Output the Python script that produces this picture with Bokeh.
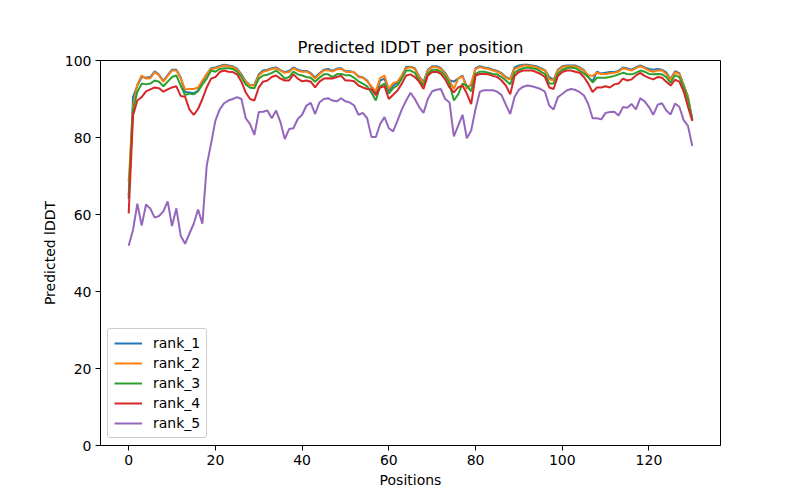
from bokeh.plotting import figure
from bokeh.models import Range1d, FixedTicker, Legend, LegendItem
from bokeh.embed import file_html
from bokeh.resources import INLINE

positions = list(range(131))

rank_1 = [64.0, 90.5, 93.5, 95.7, 95.5, 95.7, 97.2, 96.3, 94.7, 96.2,
          97.6, 97.6, 95.6, 91.8, 91.7, 91.5, 92.2, 94.4, 96.4, 98.0,
          98.2, 98.6, 98.9, 98.7, 98.5, 97.9, 96.4, 94.6, 93.6, 93.7,
          96.4, 97.4, 97.6, 98.0, 98.2, 97.5, 97.0, 97.3, 98.2, 97.6,
          97.3, 97.3, 96.7, 95.6, 96.7, 97.6, 97.8, 97.3, 97.9, 98.0,
          97.2, 97.2, 96.9, 95.9, 95.6, 94.8, 93.0, 91.3, 94.8, 95.3,
          92.2, 93.5, 94.2, 96.0, 98.3, 98.4, 98.0, 95.9, 94.4, 97.6,
          98.5, 98.5, 98.0, 96.8, 94.9, 94.5, 95.3, 96.1, 93.0, 93.6,
          98.0, 98.5, 98.2, 98.0, 97.6, 97.3, 96.7, 95.7, 95.2, 98.2,
          98.7, 98.9, 98.9, 98.7, 98.5, 98.0, 97.5, 95.7, 95.0, 97.6,
          98.5, 98.7, 98.7, 98.7, 98.2, 97.5, 95.7, 94.6, 97.1, 96.6,
          96.8, 97.0, 97.0, 97.3, 98.2, 97.9, 97.6, 98.2, 98.7, 98.2,
          97.8, 97.6, 97.8, 97.6, 96.9, 95.2, 97.2, 96.7, 93.7, 90.6,
          84.6]

rank_2 = [68.4, 88.0, 93.8, 96.1, 95.3, 95.4, 97.0, 96.1, 94.5, 96.0,
          97.4, 97.4, 95.4, 92.5, 92.6, 92.6, 93.0, 94.8, 96.5, 97.8,
          98.0, 98.4, 98.7, 98.5, 98.3, 97.7, 96.1, 94.5, 93.5, 93.5,
          96.1, 97.1, 97.4, 97.8, 98.0, 97.4, 96.8, 97.0, 98.0, 97.4,
          97.1, 97.1, 96.5, 95.3, 96.5, 97.4, 97.5, 97.1, 97.7, 97.8,
          97.1, 97.0, 97.0, 95.7, 95.5, 94.6, 93.3, 92.0, 95.5, 96.1,
          92.6, 94.1, 94.5, 96.1, 98.0, 98.3, 97.8, 95.7, 94.0, 97.4,
          98.3, 98.3, 97.8, 96.5, 94.8, 92.6, 95.3, 95.9, 92.6, 94.0,
          97.8, 98.3, 98.0, 97.8, 97.4, 97.1, 96.5, 95.5, 95.1, 97.8,
          98.3, 98.7, 98.7, 98.5, 98.3, 97.8, 97.4, 95.1, 94.8, 97.4,
          98.3, 98.5, 98.5, 98.5, 98.0, 97.4, 96.2, 96.0, 96.8, 96.5,
          96.5, 96.7, 96.8, 97.1, 98.0, 97.7, 97.4, 98.0, 98.5, 98.0,
          97.4, 97.1, 97.4, 97.4, 96.5, 95.0, 97.0, 96.5, 93.5, 90.5,
          84.5]

rank_3 = [65.0, 87.0, 91.9, 94.0, 93.8, 94.0, 94.8, 94.5, 93.3, 94.5,
          95.7, 96.1, 93.5, 91.0, 91.4, 91.2, 92.0, 93.8, 95.3, 97.4,
          97.1, 97.8, 98.0, 98.0, 97.8, 97.1, 95.7, 93.8, 92.9, 92.8,
          95.3, 96.1, 96.3, 96.8, 97.4, 96.5, 95.3, 95.7, 97.1, 96.4,
          96.1, 95.7, 95.5, 94.5, 95.5, 96.4, 96.4, 95.7, 96.4, 96.5,
          96.2, 96.2, 95.5, 94.6, 94.0, 93.3, 91.6, 89.6, 93.3, 94.0,
          91.4, 92.8, 93.5, 95.3, 97.4, 97.4, 96.8, 94.8, 93.5, 96.6,
          97.6, 97.6, 97.1, 96.0, 94.0, 89.6, 91.2, 94.0, 93.5, 92.0,
          96.5, 97.1, 97.1, 96.8, 96.5, 96.4, 95.7, 94.8, 93.8, 96.8,
          97.6, 98.0, 98.2, 98.0, 97.8, 97.1, 96.5, 94.0, 94.0, 96.6,
          97.6, 98.0, 98.2, 98.0, 97.4, 96.6, 95.7, 94.3, 95.5, 95.5,
          95.5, 95.7, 96.0, 96.4, 96.8, 96.5, 96.4, 96.8, 97.4, 97.1,
          96.5, 96.4, 96.5, 96.4, 95.7, 94.2, 96.2, 95.7, 93.0, 89.8,
          84.5]

rank_4 = [60.3, 85.7, 89.6, 90.5, 92.0, 92.5, 93.0, 92.8, 91.9, 92.5,
          93.0, 93.3, 90.8, 90.6, 87.3, 85.9, 87.4, 90.0, 93.0, 95.3,
          95.7, 97.0, 97.4, 97.1, 97.0, 96.4, 94.5, 91.7, 90.0, 89.6,
          93.0, 94.5, 94.8, 95.7, 96.1, 95.3, 94.8, 94.8, 96.4, 95.3,
          94.6, 94.8, 94.5, 93.0, 94.5, 95.3, 95.4, 95.3, 95.7, 96.0,
          94.8, 94.8, 94.6, 93.5, 93.0, 92.6, 92.5, 91.0, 93.0, 93.3,
          90.0, 91.1, 92.2, 94.0, 96.1, 96.4, 95.7, 94.5, 92.6, 96.1,
          97.0, 97.1, 96.5, 95.1, 93.0, 91.7, 93.0, 93.5, 91.4, 88.7,
          96.1, 96.5, 96.5, 96.4, 96.0, 95.7, 94.8, 93.5, 91.2, 96.0,
          97.0, 97.4, 97.4, 97.4, 97.0, 96.5, 95.7, 93.0, 92.6, 96.0,
          97.0, 97.4, 97.4, 97.1, 96.8, 95.7, 94.0, 91.8, 93.0, 93.0,
          93.3, 93.0, 93.8, 94.0, 95.3, 94.8, 95.1, 96.1, 96.8, 96.0,
          95.5, 95.1, 95.7, 95.5, 94.5, 93.5, 95.0, 94.5, 92.0, 88.0,
          84.3]

rank_5 = [51.9, 56.0, 62.8, 57.1, 62.6, 61.5, 59.2, 59.6, 60.8, 63.4,
          57.0, 61.6, 54.5, 52.4, 55.0, 57.6, 61.3, 57.6, 72.7, 78.4,
          84.4, 87.3, 88.9, 89.6, 90.0, 90.5, 90.0, 85.0, 83.5, 80.7,
          86.6, 86.7, 87.0, 85.0, 87.0, 84.0, 79.6, 82.2, 82.4, 84.8,
          85.9, 88.3, 89.0, 86.1, 89.1, 90.0, 90.2, 89.6, 89.4, 90.2,
          89.4, 89.1, 88.3, 85.9, 86.4, 85.0, 80.1, 80.1, 83.5, 85.3,
          82.4, 81.6, 84.4, 87.3, 89.6, 91.6, 90.0, 87.9, 86.4, 90.0,
          92.0, 92.4, 92.6, 90.0, 89.1, 80.3, 83.1, 85.9, 79.8, 81.8,
          87.4, 91.9, 92.3, 92.3, 92.3, 91.9, 91.0, 88.5, 86.1, 90.5,
          92.4, 93.2, 93.5, 93.3, 93.0, 92.6, 91.9, 88.3, 87.3, 90.5,
          91.3, 92.2, 92.6, 92.4, 91.8, 90.9, 88.7, 85.0, 85.0, 84.7,
          86.4, 86.6, 86.7, 85.7, 87.9, 87.7, 88.7, 87.3, 90.2, 89.4,
          87.9, 85.9, 88.5, 88.9, 87.0, 86.0, 88.8, 88.0, 84.5, 83.0,
          77.8]

series_names = ["rank_1", "rank_2", "rank_3", "rank_4", "rank_5"]
series_values = [rank_1, rank_2, rank_3, rank_4, rank_5]
colors = ["#1f77b4", "#ff7f0e", "#2ca02c", "#d62728", "#9467bd"]
x_ticks = [0, 20, 40, 60, 80, 100, 120]
y_ticks = [0, 20, 40, 60, 80, 100]

FONT = "DejaVu Sans"

p = figure(width=800, height=500, output_backend="svg", toolbar_location=None,
           x_range=Range1d(-6.5, 136.5), y_range=Range1d(0, 100),
           min_border_left=100, min_border_right=80, min_border_top=60,
           min_border_bottom=55)

p.title.text = "Predicted lDDT per position"
p.title.align = "center"
p.title.text_font = FONT
p.title.text_font_size = "16.5px"
p.title.text_font_style = "normal"
p.title.text_color = "black"
p.title.standoff = 8

p.xgrid.visible = False
p.ygrid.visible = False
p.outline_line_color = "black"
p.outline_line_width = 1
p.outline_line_alpha = 1
p.background_fill_color = "white"
p.border_fill_color = "white"

p.xaxis.ticker = FixedTicker(ticks=x_ticks)
p.yaxis.ticker = FixedTicker(ticks=y_ticks)
p.xaxis.axis_label = "Positions"
p.yaxis.axis_label = "Predicted lDDT"
for ax in (p.xaxis[0], p.yaxis[0]):
    ax.axis_label_text_font = FONT
    ax.axis_label_text_font_size = "14px"
    ax.axis_label_text_font_style = "normal"
    ax.axis_label_text_color = "black"
    ax.major_label_text_font = FONT
    ax.major_label_text_font_size = "14px"
    ax.major_label_text_color = "black"
    ax.minor_tick_line_color = None
    ax.major_tick_in = 0
    ax.major_tick_out = 5
    ax.major_tick_line_color = "black"
    ax.axis_line_color = "black"
    ax.major_label_standoff = 4
    ax.axis_label_standoff = 4

items = []
for name, vals, c in zip(series_names, series_values, colors):
    r = p.line(positions, vals, line_color=c, line_width=2)
    items.append(LegendItem(label=name, renderers=[r]))

legend = Legend(items=items, location="bottom_left")
legend.label_text_font = FONT
legend.label_text_font_size = "14px"
legend.label_text_color = "black"
legend.glyph_width = 28
legend.glyph_height = 16
legend.label_height = 16
legend.spacing = 4
legend.padding = 6
legend.margin = 7
legend.border_line_color = "#cccccc"
legend.border_line_alpha = 1
legend.border_radius = 3
legend.background_fill_alpha = 0.8
legend.label_standoff = 11
p.add_layout(legend)

open("out.html", "w").write(file_html(p, INLINE))
